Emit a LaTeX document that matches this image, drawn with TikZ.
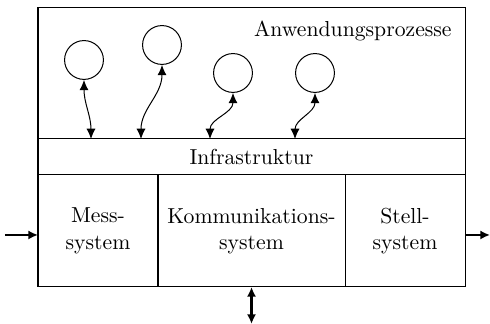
\documentclass[tikz,border=0pt]{standalone}
\usepackage{tikz}
\usetikzlibrary{arrows.meta,positioning}
\tikzset{
  blk/.style={draw, line width=0.5pt, outer sep=0pt, inner sep=2pt,
              align=center, minimum height=1.96cm},
  proc/.style={draw, circle, line width=0.5pt, minimum size=0.68cm,
               inner sep=0pt},
  link/.style={{Latex[length=1.8mm,width=1.6mm]}-{Latex[length=1.8mm,width=1.6mm]},
               line width=0.5pt},
  io/.style={-{Latex[length=1.7mm,width=1.6mm]}, line width=1pt},
}

\begin{document}
\begin{tikzpicture}[font=\fontsize{10.8}{13.2}\selectfont]
\useasboundingbox (0,0) rectangle (8.575,5.67);
% top area and the band below it
\node[draw, line width=0.5pt, outer sep=0pt, minimum width=7.4725cm,
      minimum height=2.2925cm] (anw) at (4.40125, 4.38375) {};
\node[anchor=north east, inner sep=0pt] (anwlab) at (7.91, 5.31)
  {Anwendungsprozesse};
\node[draw, line width=0.5pt, outer sep=0pt, minimum width=7.4725cm,
      minimum height=0.63cm] (infra) at (4.40125, 2.9225) {Infrastruktur};
% lower row
\node[blk, minimum width=2.1cm] (mess) at (1.715, 1.6275) {Mess-\\system};
\node[blk, minimum width=3.2725cm] (komm) at (4.40125, 1.6275)
  {Kommunikations-\\system};
\node[blk, minimum width=2.1cm] (stell) at (7.0875, 1.6275) {Stell-\\system};
% processes
\foreach \i/\x/\y in {1/1.47/4.62, 2/2.835/4.8825, 3/4.0775/4.3925,
                      4/5.5125/4.3925} {
  \node[proc] (p\i) at (\x, \y) {};
}
\foreach \i/\x in {1/1.5925, 2/2.4675, 3/3.675, 4/5.1625} {
  \coordinate (c\i) at (\x, 3.2375);
  \draw[link] (p\i.south) to[out=-90, in=90] (c\i);
}
% outside connections
\coordinate (in) at (0.0875, 1.5575);
\coordinate (out) at (8.575, 1.5575);
\coordinate (bus) at (4.40125, 0);
\draw[io] (in) -- (in -| mess.west);
\draw[io] (out -| stell.east) -- (out);
\draw[io, {Latex[length=1.7mm,width=1.6mm]}-{Latex[length=1.7mm,width=1.6mm]}]
  (komm.south) -- (bus);
\end{tikzpicture}
\end{document}
